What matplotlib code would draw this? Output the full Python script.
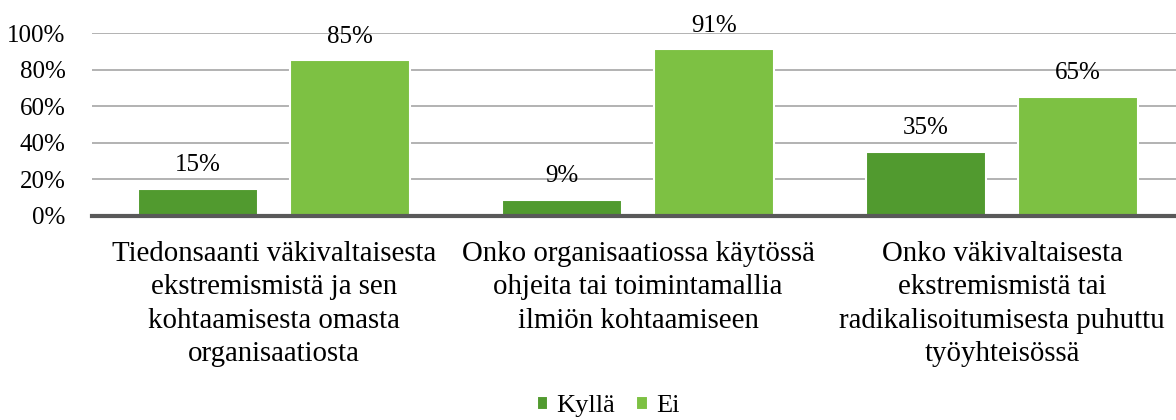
import matplotlib.pyplot as plt
import numpy as np

categories = [
    "Tiedonsaanti väkivaltaisesta\nekstremismistä ja sen\nkohtaamisesta omasta\norganisaatiosta",
    "Onko organisaatiossa käytössä\nohjeita tai toimintamallia\nilmiön kohtaamiseen",
    "Onko väkivaltaisesta\nekstremismistä tai\nradikalisoitumisesta puhuttu\ntyöyhteisössä",
]
kylla = [15, 9, 35]
ei = [85, 91, 65]
series_names = ["Kyllä", "Ei"]

plt.rcParams['font.family'] = ['Liberation Serif', 'DejaVu Serif']

fig = plt.figure(figsize=(11.76, 4.2), dpi=100)
ax = fig.add_axes([92 / 1176, 204 / 420, 1092 / 1176, 183 / 420])

x = np.arange(len(categories))
w = 0.33
off = 0.209
b1 = ax.bar(x - off, kylla, w, color="#519A2F", edgecolor="white", linewidth=1.5,
            label=series_names[0], zorder=2)
b2 = ax.bar(x + off, ei, w, color="#7DC143", edgecolor="white", linewidth=1.5,
            label=series_names[1], zorder=2)

for bars, vals in [(b1, kylla), (b2, ei)]:
    for b, v in zip(bars, vals):
        ax.text(b.get_x() + b.get_width() / 2, v + 13, str(v) + "%",
                ha="center", va="center", fontsize=18, zorder=3)

ax.set_xlim(-0.5, 2.5)
ax.set_ylim(0, 100)
ax.set_yticks(range(0, 101, 20))
ax.set_yticklabels([str(t) + "%" for t in range(0, 101, 20)], fontsize=18)
ax.set_xticks(x)
ax.set_xticklabels(categories, fontsize=20.8, linespacing=1.37)
ax.tick_params(length=0)
ax.tick_params(axis="y", pad=19)
ax.tick_params(axis="x", pad=18)

ax.yaxis.grid(True, color="#A6A6A6", linewidth=1.2, zorder=0)
ax.set_axisbelow(True)
for s in ["top", "right", "left"]:
    ax.spines[s].set_visible(False)
ax.spines["bottom"].set_color("#595959")
ax.spines["bottom"].set_linewidth(3)
ax.spines["bottom"].set_zorder(4)

fig.legend(handles=[b1, b2], loc="center", bbox_to_anchor=(608 / 1176, 1 - 406 / 420),
           ncol=2, frameon=False, fontsize=19, handlelength=0.45, handleheight=0.45,
           handletextpad=0.3, columnspacing=0.8)

fig.savefig("out.png", dpi=100)
